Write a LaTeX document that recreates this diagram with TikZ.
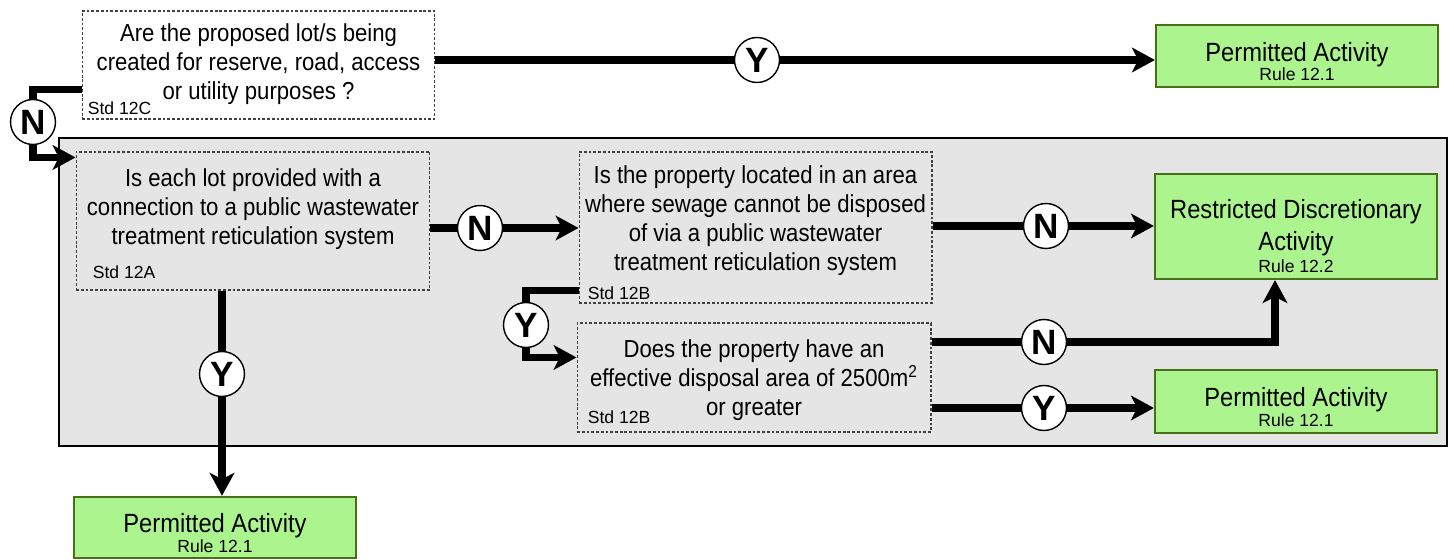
\documentclass[tikz,border=0pt]{standalone}
\usepackage{fontspec}
\setmainfont{Liberation Sans}[FakeStretch=0.9]
\newfontfamily\plainfont{Liberation Sans}
\newcommand\rulefont{\plainfont\fontsize{10}{11}\selectfont}
\usetikzlibrary{arrows.meta,calc}
\definecolor{actfill}{RGB}{172,245,142}
\definecolor{actline}{RGB}{72,112,22}
\definecolor{panelgray}{RGB}{229,229,229}

\begin{document}
\begin{tikzpicture}[x=0.02cm,y=0.02cm,
  qbox/.style={draw=black!75,dash pattern=on 1.6pt off 1.1pt,line width=0.6pt,inner sep=0pt},
  qtext/.style={align=center,inner sep=0pt,font=\fontsize{14}{16.5}\selectfont},
  stdlbl/.style={anchor=west,inner sep=0pt,font=\plainfont\fontsize{10}{12}\selectfont},
  actbox/.style={draw=actline,fill=actfill,line width=1.3pt,align=center,minimum width=5.64cm,font=\fontsize{15}{11}\selectfont},
  yn/.style={circle,draw,fill=white,line width=0.8pt,minimum size=0.9cm,inner sep=0pt,font=\plainfont\bfseries\fontsize{20}{20}\selectfont},
  conn/.style={line width=4.2pt},
  arr/.style={-{Stealth[length=13pt,width=14pt,inset=3.5pt]}}]
\useasboundingbox (0,0) rectangle (1454,560);
\draw[fill=panelgray,line width=1.2pt] (59,114) rectangle (1447,422);

\node[qbox,fill=white,minimum width=7.06cm,minimum height=2.16cm] (q0) at (258.5,495) {};
\node[qtext] (q0t) at (258.5,496) {Are the proposed lot/s being\\created for reserve, road, access\\or utility purposes ?};
\node[stdlbl] (q0s) at ($(q0.south west)+(6,11)$) {Std 12C};

\node[qbox,minimum width=7.08cm,minimum height=2.76cm] (q1) at (253,339) {};
\node[qtext] (q1t) at (253,351) {Is each lot provided with a\\connection to a public wastewater\\treatment reticulation system};
\node[stdlbl] (q1s) at ($(q1.south west)+(17,18)$) {Std 12A};

\node[qbox,minimum width=7.06cm,minimum height=3.02cm] (q2) at (755.5,332.5) {};
\node[qtext] (q2t) at (755.5,339) {Is the property located in an area\\where sewage cannot be disposed\\of via a public wastewater\\treatment reticulation system};
\node[stdlbl] (q2s) at ($(q2.south west)+(9,10)$) {Std 12B};

\node[qbox,minimum width=7.08cm,minimum height=2.18cm] (q3) at (754,182.5) {};
\node[qtext] (q3t) at (754,180) {Does the property have an\\effective disposal area of 2500m\textsuperscript{2}\\or greater};
\node[stdlbl] (q3s) at ($(q3.south west)+(11,15)$) {Std 12B};

\node[actbox,minimum height=1.24cm] (p0) at (1297,504) {\rule{0pt}{17pt}Permitted Activity\\{\rulefont Rule 12.1}};
\node[actbox,minimum height=1.9cm] (rd) at (1296,333.5) {\rule{0pt}{22pt}Restricted Discretionary\\[3pt]Activity\\[2pt]{\rulefont Rule 12.2}};
\node[actbox,minimum height=1.26cm] (p2) at (1296,158.5) {\rule{0pt}{17pt}Permitted Activity\\{\rulefont Rule 12.1}};
\node[actbox,minimum height=1.22cm] (p1) at (215,32.5) {\rule{0pt}{17pt}Permitted Activity\\{\rulefont Rule 12.1}};

\node[yn] (y0) at (757,500) {Y};
\node[yn] (n0) at (33,438) {N};
\node[yn] (n1) at (480,332) {N};
\node[yn] (n2) at (1046,334) {N};
\node[yn] (y2) at (526,235) {Y};
\node[yn] (n3) at (1044,218) {N};
\node[yn] (y3) at (1044,152) {Y};
\node[yn] (y1) at (222,186) {Y};

\draw[conn] (q0.east |- y0) -- (y0);
\draw[conn,arr] (y0) -- (p0.west |- y0);
\draw[conn] ([yshift=0.6cm]q0.south west) -| (n0);
\draw[conn,arr] (n0) |- ([yshift=-0.12cm]q1.north west);
\draw[conn] (q1.east |- n1) -- (n1);
\draw[conn,arr] (n1) -- (q2.west |- n1);
\draw[conn] (q2.east |- n2) -- (n2);
\draw[conn,arr] (n2) -- (rd.west |- n2);
\draw[conn] ([yshift=0.26cm]q2.south west) -| (y2);
\draw[conn,arr] (y2) |- ([yshift=-0.7cm]q3.north west);
\draw[conn] (q3.east |- n3) -- (n3);
\draw[conn,arr] (n3) -| ([xshift=-0.42cm]rd.south);
\draw[conn] (q3.east |- y3) -- (y3);
\draw[conn,arr] (y3) -- (p2.west |- y3);
\draw[conn] (q1.south -| y1) -- (y1);
\draw[conn,arr] (y1) -- (p1.north -| y1);
\end{tikzpicture}
\end{document}
